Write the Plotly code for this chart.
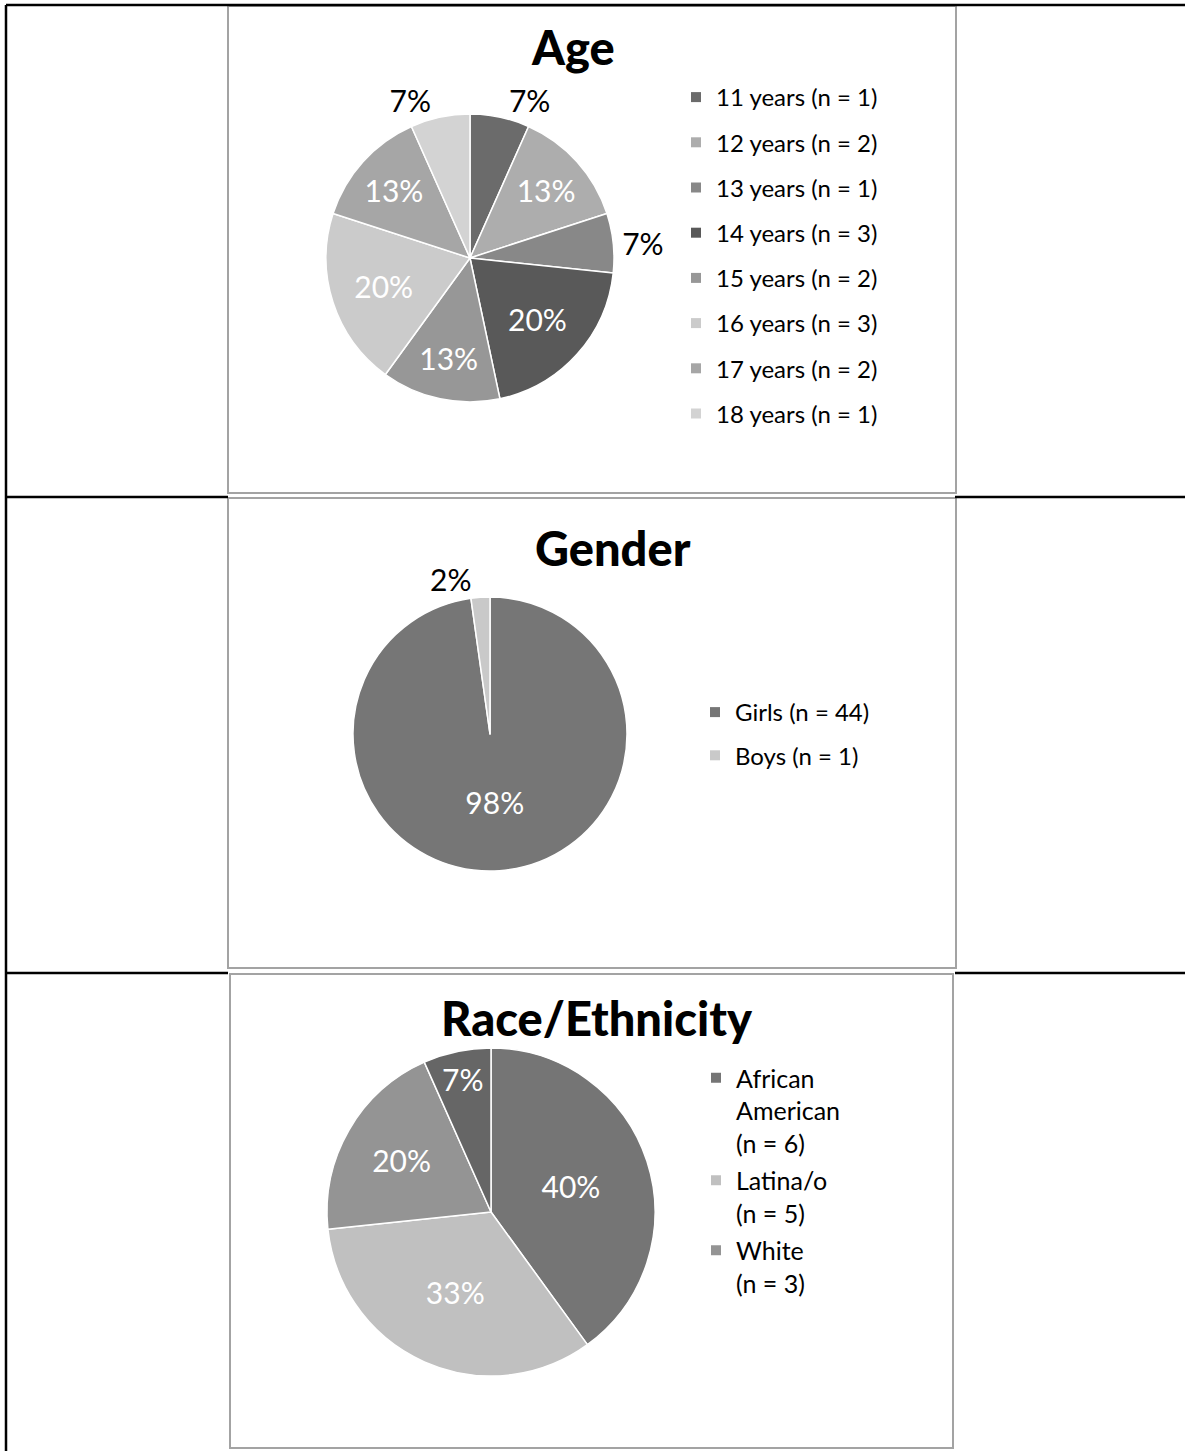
import plotly.graph_objects as go

W, H = 1185, 1451
FONT = "Lato"

# ---------------- data ----------------
age_labels = ["11 years (n = 1)", "12 years (n = 2)", "13 years (n = 1)", "14 years (n = 3)",
              "15 years (n = 2)", "16 years (n = 3)", "17 years (n = 2)", "18 years (n = 1)"]
age_counts = [1, 2, 1, 3, 2, 3, 2, 1]
age_colors = ["#6b6b6b", "#adadad", "#888888", "#595959", "#979797", "#cbcbcb", "#a6a6a6", "#d3d3d3"]
age_textpos = ["outside", "inside", "outside", "inside", "inside", "inside", "inside", "outside"]

gender_labels = ["Girls (n = 44)", "Boys (n = 1)"]
gender_counts = [44, 1]
gender_colors = ["#767676", "#c9c9c9"]
gender_textpos = ["inside", "outside"]

race_labels = ["African<br>American<br>(n = 6)", "Latina/o<br>(n = 5)", "White<br>(n = 3)", "Other (n = 1)"]
race_counts = [6, 5, 3, 1]
race_colors = ["#757575", "#c0c0c0", "#949494", "#666666"]
race_textpos = ["inside", "inside", "inside", "inside"]
race_in_legend = [True, True, True, False]   # 4th entry is cut off in the original legend


def px_x(x):
    return x / W


def px_y(y):
    return 1 - y / H


def dom(cx, cy, r):
    return dict(x=[px_x(cx - r), px_x(cx + r)], y=[px_y(cy + r), px_y(cy - r)])


fig = go.Figure()


def add_pie(labels, counts, colors, textpos, domain):
    fig.add_trace(go.Pie(
        labels=labels, values=counts, sort=False, direction="clockwise", rotation=0,
        marker=dict(colors=colors, line=dict(color="white", width=1.5)),
        textposition=textpos, texttemplate="%{percent:.0%}",
        insidetextorientation="horizontal",
        insidetextfont=dict(family=FONT, size=30, color="white"),
        outsidetextfont=dict(family=FONT, size=30, color="black"),
        showlegend=False, domain=domain, hoverinfo="label+percent",
    ))


def add_legend(labels, colors, legend_name, prefix, show=None):
    for i, (lab, col) in enumerate(zip(labels, colors)):
        if show is not None and not show[i]:
            continue
        fig.add_trace(go.Scatter(
            x=[None], y=[None], mode="markers", name=lab,
            marker=dict(symbol="square", size=10, color=col, line=dict(width=0)),
            legend=legend_name, legendgroup=f"{prefix}{i}", showlegend=True, hoverinfo="skip",
        ))


add_pie(age_labels, age_counts, age_colors, age_textpos, dom(470, 258, 144))
add_pie(gender_labels, gender_counts, gender_colors, gender_textpos, dom(490, 734, 137))
add_pie(race_labels, race_counts, race_colors, race_textpos, dom(491, 1212, 164))

add_legend(age_labels, age_colors, "legend", "age")
add_legend(gender_labels, gender_colors, "legend2", "gen")
add_legend(race_labels, race_colors, "legend3", "race", race_in_legend)

# ---------------- decoration: table lines and chart boxes ----------------
shapes = []
black = dict(color="black", width=2.5)
gray = dict(color="#a3a3a3", width=2)
shapes.append(dict(type="line", xref="paper", yref="paper", x0=px_x(6), x1=1, y0=px_y(5), y1=px_y(5), line=black))
shapes.append(dict(type="line", xref="paper", yref="paper", x0=px_x(6), x1=px_x(6), y0=px_y(5), y1=0, line=black))
for yy in (497, 973):
    shapes.append(dict(type="line", xref="paper", yref="paper", x0=px_x(6), x1=px_x(228), y0=px_y(yy), y1=px_y(yy), line=black))
    shapes.append(dict(type="line", xref="paper", yref="paper", x0=px_x(955), x1=1, y0=px_y(yy), y1=px_y(yy), line=black))
for (x0, y0, x1, y1) in [(228, 6, 956, 493), (228, 498, 956, 968), (230, 974, 953, 1448)]:
    shapes.append(dict(type="rect", xref="paper", yref="paper", x0=px_x(x0), x1=px_x(x1),
                       y0=px_y(y1), y1=px_y(y0), line=gray, fillcolor="white", layer="below"))

titles = [("Age", 573, 47), ("Gender", 613, 548), ("Race/Ethnicity", 597, 1018)]
annotations = [dict(text=t, x=px_x(x), y=px_y(y), xref="paper", yref="paper", showarrow=False,
                    xanchor="center", yanchor="middle",
                    font=dict(family=FONT, size=47, color="black", weight=900))
               for t, x, y in titles]

leg_common = dict(xanchor="left", yanchor="top", bgcolor="rgba(0,0,0,0)", borderwidth=0,
                  traceorder="grouped", itemclick=False, itemdoubleclick=False,
                  font=dict(family=FONT, size=24, color="black"), valign="top")

fig.update_layout(
    width=W, height=H, autosize=False,
    margin=dict(l=0, r=0, t=0, b=0, pad=0),
    paper_bgcolor="white", plot_bgcolor="white",
    xaxis=dict(visible=False), yaxis=dict(visible=False),
    shapes=shapes, annotations=annotations,
    uniformtext=dict(minsize=28, mode="show"),
    legend=dict(x=px_x(676), y=px_y(75), tracegroupgap=11, **leg_common),
    legend2=dict(x=px_x(695), y=px_y(690), tracegroupgap=9, **leg_common),
    legend3=dict(x=px_x(696), y=px_y(1055), tracegroupgap=2,
                 **{**leg_common, "font": dict(family=FONT, size=25, color="black")}),
)

fig.write_html("out.html", post_script="document.body.style.margin='0';",
               config={"displayModeBar": False})
